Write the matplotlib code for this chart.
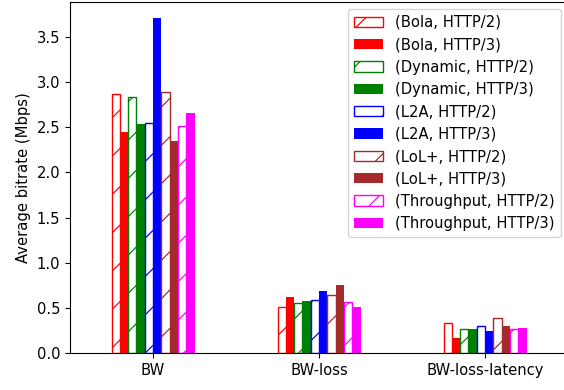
import matplotlib
matplotlib.use("Agg")
import matplotlib.pyplot as plt
import numpy as np

# ---- data ----
scenarios = ["BW", "BW-loss", "BW-loss-latency"]
algorithms = ["Bola", "Dynamic", "L2A", "LoL+", "Throughput"]
colors = ["red", "green", "blue", "brown", "magenta"]
http2 = {
    "Bola":       [2.86, 0.51, 0.34],
    "Dynamic":    [2.83, 0.56, 0.265],
    "L2A":        [2.55, 0.585, 0.305],
    "LoL+":       [2.89, 0.64, 0.39],
    "Throughput": [2.51, 0.57, 0.27],
}
http3 = {
    "Bola":       [2.44, 0.62, 0.17],
    "Dynamic":    [2.53, 0.58, 0.265],
    "L2A":        [3.70, 0.69, 0.245],
    "LoL+":       [2.35, 0.75, 0.30],
    "Throughput": [2.65, 0.51, 0.28],
}

# ---- rendering scale (dpi chosen so hatch spacing matches) ----
DPI = 115
def pt(px):
    return px * 72.0 / DPI

plt.rcParams.update({
    "font.family": ["DejaVu Sans"],
    "font.size": pt(14.7),
    "axes.linewidth": pt(1.1),
    "xtick.major.size": pt(4.9),
    "ytick.major.size": pt(4.9),
    "xtick.major.width": pt(1.1),
    "ytick.major.width": pt(1.1),
    "xtick.major.pad": pt(4.9),
    "ytick.major.pad": pt(4.9),
    "axes.labelpad": pt(5.6),
    "patch.linewidth": pt(1.4),
    "hatch.linewidth": pt(1.2),
})

fig = plt.figure(figsize=(564 / DPI, 390 / DPI), dpi=DPI)
ax = fig.add_axes([70 / 564, 36.7 / 390, 498 / 564, 351.6 / 390])

x = np.arange(len(scenarios))
w = 0.05
i = 0
for alg, c in zip(algorithms, colors):
    ax.bar(x + (i - 4.5) * w, http2[alg], w, facecolor="white", edgecolor=c,
           hatch="/", linewidth=pt(1.4), label=f"({alg}, HTTP/2)")
    i += 1
    ax.bar(x + (i - 4.5) * w, http3[alg], w, color=c, linewidth=0,
           label=f"({alg}, HTTP/3)")
    i += 1

ax.set_xticks(x)
ax.set_xticklabels(scenarios)
ax.set_xlim(-0.5, 2.5)
ax.set_ylabel("Average bitrate (Mbps)")
ax.legend(loc="upper right")

fig.savefig("out.png", dpi=DPI)
